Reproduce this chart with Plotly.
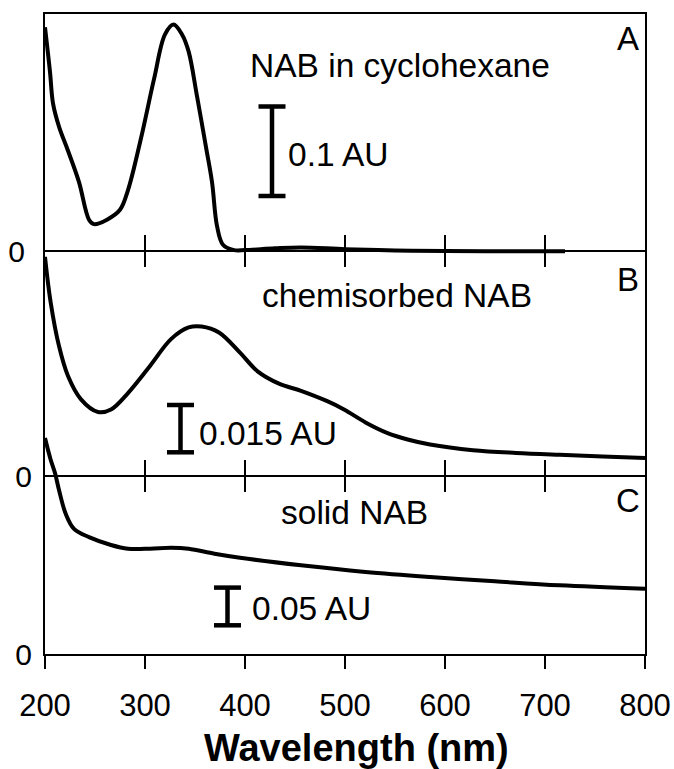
import plotly.graph_objects as go

# ---------------- data (absorbance, AU) ----------------
wl_A = [200, 205, 208, 214, 223, 234, 244, 249, 262, 275, 283, 296, 309, 320, 328.5,
        337, 343.6, 352, 361, 367, 372, 378, 389, 400, 430, 456, 500, 550, 600, 660, 720]
abs_A = [0.250, 0.200, 0.165, 0.139, 0.112, 0.077, 0.035, 0.030, 0.035, 0.046, 0.068,
         0.126, 0.192, 0.242, 0.253, 0.242, 0.223, 0.173, 0.116, 0.077, 0.028, 0.007,
         0.001, 0.001, 0.003, 0.004, 0.002, 0.0006, 0.0, -0.0003, -0.0003]

wl_B = [200, 205.6, 214, 223, 236, 253, 266, 283, 305, 326, 343.6, 356.6, 374, 395,
        412.6, 434, 456, 481.7, 499, 520.5, 542, 563.6, 585, 628, 671, 714.6, 757.7, 800]
abs_B = [0.0695, 0.0552, 0.0412, 0.0317, 0.0243, 0.0203, 0.0211, 0.0263, 0.0349,
         0.0434, 0.0471, 0.0474, 0.0455, 0.0391, 0.0332, 0.0293, 0.0270, 0.0238,
         0.0211, 0.0170, 0.0137, 0.0115, 0.0100, 0.0082, 0.0073, 0.0067, 0.0062, 0.0057]

wl_C = [200, 205.6, 210, 214, 220.7, 229, 244, 266, 283, 305, 326, 343.6, 369.5, 395,
        456, 520.5, 585, 650, 714.6, 800]
abs_C = [0.2865, 0.258, 0.240, 0.2175, 0.186, 0.166, 0.155, 0.1446, 0.1397, 0.1397,
         0.141, 0.1397, 0.133, 0.1277, 0.1176, 0.1088, 0.1021, 0.0964, 0.0911, 0.0866]

x_ticks = [200, 300, 400, 500, 600, 700, 800]
inner_ticks = [300, 400, 500, 600, 700]
panel_labels = ["A", "B", "C"]
panel_titles = ["NAB in cyclohexane", "chemisorbed NAB", "solid NAB"]
bar_au = [0.1, 0.015, 0.05]
bar_text = ["0.1 AU", "0.015 AU", "0.05 AU"]

# ---------------- layout geometry ----------------
W, H = 674, 769
ML, MR, MT, MB = 45, 29, 14, 115
PW, PH = W - ML - MR, H - MT - MB
TOP_PX, BOT_PX = MT, H - MB

zero_px = [251, 476, 654]          # pixel row of each panel's zero line
bar_len_px = [89.5, 47.3, 37.7]    # pixel length of each scale bar
bar_base_px = [196, 452.3, 625.3]  # pixel row of bottom of each scale bar
bar_wl = [427, 335.5, 382.5]       # scale-bar position (nm)
bar_cap = 13.5                     # half-width of caps (nm)


def py2paper(py):
    return (BOT_PX - py) / PH


def px2paper(px):
    return (px - ML) / PW


ranges = []
for z, L, au in zip(zero_px, bar_len_px, bar_au):
    s = L / au                      # px per AU
    ranges.append([-(BOT_PX - z) / s, (z - TOP_PX) / s])

bar_lo = [(z - b) * au / L for z, b, au, L in zip(zero_px, bar_base_px, bar_au, bar_len_px)]

FONT = "Liberation Sans, Arial, Helvetica, sans-serif"
TXT = 33.5
yrefs = ["y", "y2", "y3"]

fig = go.Figure()
for wl, ab, yr in [(wl_A, abs_A, "y"), (wl_B, abs_B, "y2"), (wl_C, abs_C, "y3")]:
    fig.add_trace(go.Scatter(x=wl, y=ab, yaxis=yr, mode="lines",
                             line=dict(color="black", width=4, shape="spline", smoothing=1.0),
                             hoverinfo="skip"))

# scale bars
for i in range(3):
    c, lo, au = bar_wl[i], bar_lo[i], bar_au[i]
    xs = [c, c, None, c - bar_cap, c + bar_cap, None, c - bar_cap, c + bar_cap]
    ys = [lo, lo + au, None, lo + au, lo + au, None, lo, lo]
    fig.add_trace(go.Scatter(x=xs, y=ys, yaxis=yrefs[i], mode="lines",
                             line=dict(color="black", width=4.5), hoverinfo="skip"))

# ticks crossing the inner zero lines
for yr in ["y", "y2"]:
    fig.add_trace(go.Scatter(x=inner_ticks, y=[0] * len(inner_ticks), yaxis=yr,
                             mode="markers",
                             marker=dict(symbol="line-ns", size=23,
                                         line=dict(color="black", width=2)),
                             hoverinfo="skip"))

annotations = []
title_px = [(399.5, 65), (396.7, 295.6), (354.7, 512)]
letter_px = [(627.5, 38.5), (628, 279), (628, 500)]
bartext_px = [(286, 154.8), (197, 433.3), (250, 608.7)]
for i in range(3):
    annotations.append(dict(text=panel_titles[i], xref="paper", yref="paper",
                            x=px2paper(title_px[i][0]), y=py2paper(title_px[i][1]),
                            xanchor="center", yanchor="middle", showarrow=False,
                            font=dict(family=FONT, size=TXT, color="black")))
    annotations.append(dict(text=panel_labels[i], xref="paper", yref="paper",
                            x=px2paper(letter_px[i][0]), y=py2paper(letter_px[i][1]),
                            xanchor="center", yanchor="middle", showarrow=False,
                            font=dict(family=FONT, size=33, color="black")))
    annotations.append(dict(text=bar_text[i], xref="paper", yref="paper",
                            x=px2paper(bartext_px[i][0]), y=py2paper(bartext_px[i][1]),
                            xanchor="left", yanchor="middle", showarrow=False,
                            font=dict(family=FONT, size=TXT, color="black")))
annotations.append(dict(text="<b>Wavelength (nm)</b>", xref="paper", yref="paper",
                        x=px2paper(356), y=py2paper(748),
                        xanchor="center", yanchor="middle", showarrow=False,
                        font=dict(family=FONT, size=38, color="black")))

yax_common = dict(tickvals=[0], ticktext=["0"], ticks="", showgrid=False,
                  automargin=False,
                  tickfont=dict(family=FONT, size=30, color="black"),
                  ticklabelstandoff=12, zerolinecolor="black", zerolinewidth=2)

fig.update_layout(
    template="none",
    width=W, height=H,
    margin=dict(l=ML, r=MR, t=MT, b=MB, pad=0, autoexpand=False),
    paper_bgcolor="white", plot_bgcolor="white",
    showlegend=False,
    annotations=annotations,
    xaxis=dict(range=[200, 800], tickvals=x_ticks, ticks="outside", ticklen=13,
               tickwidth=2, tickcolor="black", showline=True, linewidth=2,
               linecolor="black", mirror=True, showgrid=False, zeroline=False,
               automargin=False,
               tickfont=dict(family=FONT, size=31, color="black"),
               ticklabelstandoff=10),
    yaxis=dict(range=ranges[0], showline=True, linewidth=2, linecolor="black",
               mirror=True, zeroline=True, **yax_common),
    yaxis2=dict(range=ranges[1], overlaying="y", side="left", showline=False,
                zeroline=True, **yax_common),
    yaxis3=dict(range=ranges[2], overlaying="y", side="left", showline=False,
                zeroline=False, **yax_common),
)

fig.write_html("out.html")
